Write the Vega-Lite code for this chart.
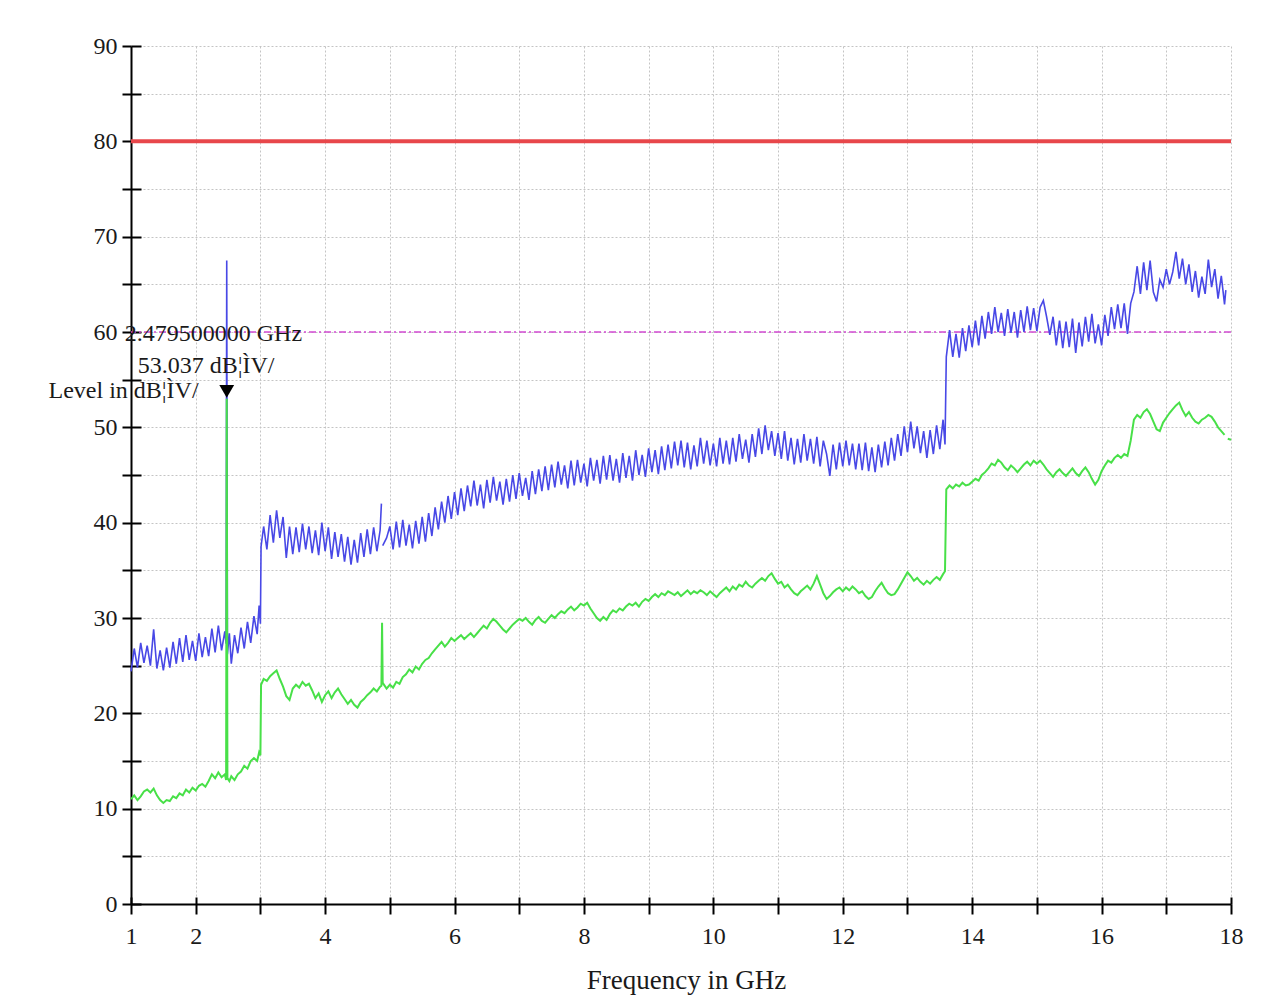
{
"$schema":"https://vega.github.io/schema/vega-lite/v6.json",
"width":1100,"height":858,
"autosize":{"type":"none"},
"padding":{"left":131,"top":46,"right":47,"bottom":94},
"background":"white",
"config":{"view":{"stroke":null},"axis":{"labelFont":"Liberation Serif","titleFont":"Liberation Serif","labelColor":"#1a1a1a","titleColor":"#1a1a1a","titleFontWeight":"normal","labelFlush":false,"labelOverlap":false,"labelBound":false}},
"data":{"values":[
{"f":1.00,"peak":24.4,"avg":11.0},{"f":1.05,"peak":26.8,"avg":11.4},{"f":1.10,"peak":24.8,"avg":10.9},{"f":1.15,"peak":27.4,"avg":11.3},{"f":1.20,"peak":25.3,"avg":11.8},{"f":1.25,"peak":27.1,"avg":12.0},{"f":1.30,"peak":25.0,"avg":11.7},{"f":1.35,"peak":28.8,"avg":12.1},{"f":1.40,"peak":24.7,"avg":11.4},{"f":1.45,"peak":26.6,"avg":10.9},
{"f":1.50,"peak":24.5,"avg":10.6},{"f":1.55,"peak":26.9,"avg":10.9},{"f":1.60,"peak":24.8,"avg":10.8},{"f":1.65,"peak":27.5,"avg":11.3},{"f":1.70,"peak":25.2,"avg":11.1},{"f":1.75,"peak":27.9,"avg":11.6},{"f":1.80,"peak":25.4,"avg":11.4},{"f":1.85,"peak":28.2,"avg":12.0},{"f":1.90,"peak":25.6,"avg":11.7},{"f":1.95,"peak":27.6,"avg":12.2},
{"f":2.00,"peak":25.5,"avg":11.9},{"f":2.05,"peak":28.4,"avg":12.4},{"f":2.10,"peak":25.9,"avg":12.6},{"f":2.15,"peak":28.0,"avg":12.3},{"f":2.20,"peak":26.0,"avg":12.9},{"f":2.25,"peak":28.9,"avg":13.6},{"f":2.30,"peak":26.4,"avg":13.2},{"f":2.35,"peak":29.2,"avg":13.8},{"f":2.40,"peak":26.6,"avg":13.3},{"f":2.45,"peak":28.6,"avg":13.6},
{"f":2.47,"peak":27.3,"avg":13.0},{"f":2.4795,"peak":67.5,"avg":53.0},{"f":2.49,"peak":26.2,"avg":13.2},{"f":2.52,"peak":28.4,"avg":12.9},{"f":2.55,"peak":25.2,"avg":13.4},{"f":2.60,"peak":28.2,"avg":13.0},{"f":2.65,"peak":26.3,"avg":13.6},{"f":2.70,"peak":29.0,"avg":13.9},{"f":2.75,"peak":26.8,"avg":14.5},{"f":2.80,"peak":29.6,"avg":14.2},
{"f":2.85,"peak":27.4,"avg":15.0},{"f":2.90,"peak":30.2,"avg":15.3},{"f":2.95,"peak":28.3,"avg":15.0},{"f":2.98,"peak":31.3,"avg":15.9},{"f":3.00,"peak":29.4,"avg":15.6},{"f":3.01,"peak":37.5,"avg":23.0},{"f":3.05,"peak":39.6,"avg":23.6},{"f":3.10,"peak":37.2,"avg":23.4},{"f":3.15,"peak":40.8,"avg":23.9},{"f":3.20,"peak":37.9,"avg":24.2},
{"f":3.25,"peak":41.3,"avg":24.5},{"f":3.30,"peak":38.4,"avg":23.6},{"f":3.35,"peak":40.6,"avg":22.8},{"f":3.40,"peak":36.3,"avg":21.8},{"f":3.45,"peak":39.6,"avg":21.4},{"f":3.50,"peak":36.7,"avg":22.6},{"f":3.55,"peak":39.5,"avg":23.0},{"f":3.60,"peak":36.9,"avg":22.7},{"f":3.65,"peak":39.9,"avg":23.3},{"f":3.70,"peak":37.2,"avg":22.9},
{"f":3.75,"peak":39.6,"avg":23.1},{"f":3.80,"peak":36.8,"avg":22.4},{"f":3.85,"peak":39.2,"avg":21.6},{"f":3.90,"peak":36.6,"avg":22.1},{"f":3.95,"peak":40.0,"avg":21.2},{"f":4.00,"peak":37.0,"avg":21.9},{"f":4.05,"peak":39.5,"avg":22.3},{"f":4.10,"peak":36.2,"avg":21.6},{"f":4.15,"peak":39.0,"avg":22.2},{"f":4.20,"peak":36.4,"avg":22.6},
{"f":4.25,"peak":38.8,"avg":22.0},{"f":4.30,"peak":35.9,"avg":21.5},{"f":4.35,"peak":38.5,"avg":21.0},{"f":4.40,"peak":35.6,"avg":21.4},{"f":4.45,"peak":38.2,"avg":20.9},{"f":4.50,"peak":35.8,"avg":20.6},{"f":4.55,"peak":38.9,"avg":21.2},{"f":4.60,"peak":36.4,"avg":21.5},{"f":4.65,"peak":39.3,"avg":21.9},{"f":4.70,"peak":36.7,"avg":22.2},
{"f":4.75,"peak":39.5,"avg":22.6},{"f":4.80,"peak":37.0,"avg":22.3},{"f":4.85,"peak":39.2,"avg":22.8},{"f":4.87,"peak":42.0,"avg":22.9},{"f":4.88,"avg":29.5},{"f":4.89,"peak":37.6,"avg":23.2},{"f":4.95,"peak":38.4,"avg":22.6},{"f":5.00,"peak":39.6,"avg":23.0},{"f":5.05,"peak":37.2,"avg":22.7},{"f":5.10,"peak":40.1,"avg":23.3},
{"f":5.15,"peak":37.4,"avg":23.1},{"f":5.20,"peak":40.3,"avg":23.8},{"f":5.25,"peak":37.6,"avg":24.1},{"f":5.30,"peak":39.8,"avg":24.6},{"f":5.35,"peak":37.3,"avg":24.3},{"f":5.40,"peak":40.2,"avg":24.9},{"f":5.45,"peak":37.8,"avg":24.6},{"f":5.50,"peak":40.6,"avg":25.2},{"f":5.55,"peak":38.0,"avg":25.6},{"f":5.60,"peak":41.0,"avg":25.8},
{"f":5.65,"peak":38.6,"avg":26.3},{"f":5.70,"peak":41.6,"avg":26.7},{"f":5.75,"peak":39.3,"avg":27.1},{"f":5.80,"peak":42.2,"avg":27.5},{"f":5.85,"peak":40.0,"avg":27.0},{"f":5.90,"peak":42.8,"avg":27.4},{"f":5.95,"peak":40.4,"avg":27.9},{"f":6.00,"peak":43.2,"avg":27.6},{"f":6.05,"peak":40.8,"avg":27.9},{"f":6.10,"peak":43.6,"avg":28.2},
{"f":6.15,"peak":41.2,"avg":27.8},{"f":6.20,"peak":43.9,"avg":28.1},{"f":6.25,"peak":41.7,"avg":28.4},{"f":6.30,"peak":44.4,"avg":28.0},{"f":6.35,"peak":41.8,"avg":28.4},{"f":6.40,"peak":44.0,"avg":28.8},{"f":6.45,"peak":41.5,"avg":29.2},{"f":6.50,"peak":44.5,"avg":28.9},{"f":6.55,"peak":42.1,"avg":29.5},{"f":6.60,"peak":44.8,"avg":29.9},
{"f":6.65,"peak":42.3,"avg":29.6},{"f":6.70,"peak":44.3,"avg":29.2},{"f":6.75,"peak":41.9,"avg":28.8},{"f":6.80,"peak":44.6,"avg":28.5},{"f":6.85,"peak":42.2,"avg":28.9},{"f":6.90,"peak":45.0,"avg":29.3},{"f":6.95,"peak":42.5,"avg":29.6},{"f":7.00,"peak":45.2,"avg":29.9},{"f":7.05,"peak":42.8,"avg":29.7},{"f":7.10,"peak":44.7,"avg":30.0},
{"f":7.15,"peak":42.4,"avg":29.6},{"f":7.20,"peak":45.4,"avg":29.3},{"f":7.25,"peak":43.0,"avg":29.8},{"f":7.30,"peak":45.6,"avg":30.1},{"f":7.35,"peak":43.3,"avg":29.7},{"f":7.40,"peak":45.9,"avg":29.5},{"f":7.45,"peak":43.4,"avg":29.9},{"f":7.50,"peak":46.1,"avg":30.3},{"f":7.55,"peak":43.7,"avg":30.0},{"f":7.60,"peak":46.4,"avg":30.4},
{"f":7.65,"peak":44.0,"avg":30.7},{"f":7.70,"peak":46.0,"avg":30.5},{"f":7.75,"peak":43.6,"avg":30.9},{"f":7.80,"peak":46.5,"avg":31.2},{"f":7.85,"peak":43.9,"avg":30.8},{"f":7.90,"peak":46.6,"avg":31.1},{"f":7.95,"peak":44.2,"avg":31.5},{"f":8.00,"peak":46.2,"avg":31.3},{"f":8.05,"peak":43.8,"avg":31.6},{"f":8.10,"peak":46.8,"avg":31.0},
{"f":8.15,"peak":44.4,"avg":30.5},{"f":8.20,"peak":46.6,"avg":30.0},{"f":8.25,"peak":44.1,"avg":29.7},{"f":8.30,"peak":47.0,"avg":30.1},{"f":8.35,"peak":44.5,"avg":29.8},{"f":8.40,"peak":47.1,"avg":30.4},{"f":8.45,"peak":44.4,"avg":30.8},{"f":8.50,"peak":46.7,"avg":30.6},{"f":8.55,"peak":44.2,"avg":31.0},{"f":8.60,"peak":47.3,"avg":30.8},
{"f":8.65,"peak":44.7,"avg":31.2},{"f":8.70,"peak":47.0,"avg":31.5},{"f":8.75,"peak":44.4,"avg":31.3},{"f":8.80,"peak":47.6,"avg":31.6},{"f":8.85,"peak":45.0,"avg":31.2},{"f":8.90,"peak":47.1,"avg":31.7},{"f":8.95,"peak":44.8,"avg":32.0},{"f":9.00,"peak":47.8,"avg":31.8},{"f":9.05,"peak":45.3,"avg":32.2},{"f":9.10,"peak":47.6,"avg":32.5},
{"f":9.15,"peak":45.1,"avg":32.2},{"f":9.20,"peak":48.0,"avg":32.6},{"f":9.25,"peak":45.5,"avg":32.4},{"f":9.30,"peak":48.2,"avg":32.8},{"f":9.35,"peak":45.7,"avg":32.6},{"f":9.40,"peak":48.5,"avg":32.4},{"f":9.45,"peak":46.0,"avg":32.7},{"f":9.50,"peak":48.6,"avg":32.3},{"f":9.55,"peak":45.8,"avg":32.6},{"f":9.60,"peak":48.4,"avg":32.9},
{"f":9.65,"peak":45.6,"avg":32.5},{"f":9.70,"peak":48.1,"avg":32.8},{"f":9.75,"peak":45.9,"avg":32.6},{"f":9.80,"peak":48.9,"avg":32.9},{"f":9.85,"peak":46.2,"avg":32.7},{"f":9.90,"peak":48.6,"avg":32.4},{"f":9.95,"peak":46.0,"avg":32.8},{"f":10.00,"peak":48.3,"avg":32.5},{"f":10.05,"peak":45.9,"avg":32.2},{"f":10.10,"peak":48.9,"avg":32.6},
{"f":10.15,"peak":46.2,"avg":32.9},{"f":10.20,"peak":48.6,"avg":33.2},{"f":10.25,"peak":46.1,"avg":32.8},{"f":10.30,"peak":48.9,"avg":33.3},{"f":10.35,"peak":46.4,"avg":33.0},{"f":10.40,"peak":49.3,"avg":33.5},{"f":10.45,"peak":46.7,"avg":33.3},{"f":10.50,"peak":48.7,"avg":33.8},{"f":10.55,"peak":46.3,"avg":33.4},{"f":10.60,"peak":49.3,"avg":33.2},
{"f":10.65,"peak":46.9,"avg":33.6},{"f":10.70,"peak":49.9,"avg":33.9},{"f":10.75,"peak":47.2,"avg":34.2},{"f":10.80,"peak":50.2,"avg":33.9},{"f":10.85,"peak":47.6,"avg":34.4},{"f":10.90,"peak":49.6,"avg":34.7},{"f":10.95,"peak":47.0,"avg":34.1},{"f":11.00,"peak":49.4,"avg":33.6},{"f":11.05,"peak":46.7,"avg":33.8},{"f":11.10,"peak":49.6,"avg":33.2},
{"f":11.15,"peak":46.5,"avg":33.5},{"f":11.20,"peak":48.9,"avg":33.0},{"f":11.25,"peak":46.1,"avg":32.6},{"f":11.30,"peak":48.8,"avg":32.4},{"f":11.35,"peak":46.3,"avg":32.8},{"f":11.40,"peak":49.3,"avg":33.1},{"f":11.45,"peak":46.5,"avg":33.4},{"f":11.50,"peak":48.8,"avg":33.0},{"f":11.55,"peak":46.2,"avg":33.6},{"f":11.60,"peak":49.0,"avg":34.4},
{"f":11.65,"peak":45.9,"avg":33.5},{"f":11.70,"peak":48.6,"avg":32.6},{"f":11.75,"peak":47.2,"avg":32.0},{"f":11.80,"peak":44.9,"avg":32.3},{"f":11.85,"peak":48.2,"avg":32.7},{"f":11.90,"peak":45.6,"avg":33.0},{"f":11.95,"peak":48.4,"avg":33.2},{"f":12.00,"peak":45.9,"avg":32.8},{"f":12.05,"peak":48.6,"avg":33.2},{"f":12.10,"peak":46.0,"avg":32.9},
{"f":12.15,"peak":48.3,"avg":33.3},{"f":12.20,"peak":45.6,"avg":33.0},{"f":12.25,"peak":48.3,"avg":32.6},{"f":12.30,"peak":45.5,"avg":32.8},{"f":12.35,"peak":48.4,"avg":32.3},{"f":12.40,"peak":45.4,"avg":32.0},{"f":12.45,"peak":47.9,"avg":32.2},{"f":12.50,"peak":45.3,"avg":32.8},{"f":12.55,"peak":48.2,"avg":33.3},{"f":12.60,"peak":45.8,"avg":33.7},
{"f":12.65,"peak":48.5,"avg":33.1},{"f":12.70,"peak":46.0,"avg":32.6},{"f":12.75,"peak":48.9,"avg":32.4},{"f":12.80,"peak":46.5,"avg":32.5},{"f":12.85,"peak":49.3,"avg":33.0},{"f":12.90,"peak":47.0,"avg":33.6},{"f":12.95,"peak":50.1,"avg":34.2},{"f":13.00,"peak":47.4,"avg":34.8},{"f":13.05,"peak":50.6,"avg":34.4},{"f":13.10,"peak":47.8,"avg":33.9},
{"f":13.15,"peak":50.1,"avg":34.2},{"f":13.20,"peak":47.3,"avg":33.8},{"f":13.25,"peak":49.6,"avg":33.5},{"f":13.30,"peak":46.8,"avg":33.9},{"f":13.35,"peak":49.7,"avg":33.6},{"f":13.40,"peak":47.2,"avg":34.0},{"f":13.45,"peak":50.2,"avg":34.3},{"f":13.50,"peak":47.7,"avg":34.0},{"f":13.55,"peak":50.8,"avg":34.6},{"f":13.58,"peak":48.2,"avg":34.9},
{"f":13.60,"peak":57.4,"avg":43.5},{"f":13.65,"peak":60.2,"avg":43.9},{"f":13.70,"peak":57.4,"avg":43.6},{"f":13.75,"peak":59.8,"avg":44.0},{"f":13.80,"peak":57.3,"avg":43.8},{"f":13.85,"peak":60.4,"avg":44.2},{"f":13.90,"peak":58.0,"avg":43.9},{"f":13.95,"peak":60.7,"avg":44.0},{"f":14.00,"peak":58.4,"avg":44.3},{"f":14.05,"peak":61.2,"avg":44.6},
{"f":14.10,"peak":58.6,"avg":44.4},{"f":14.15,"peak":61.7,"avg":45.0},{"f":14.20,"peak":59.3,"avg":45.3},{"f":14.25,"peak":62.1,"avg":45.7},{"f":14.30,"peak":59.8,"avg":46.2},{"f":14.35,"peak":62.6,"avg":46.0},{"f":14.40,"peak":60.0,"avg":46.6},{"f":14.45,"peak":62.0,"avg":46.3},{"f":14.50,"peak":59.6,"avg":45.8},{"f":14.55,"peak":62.4,"avg":45.5},
{"f":14.60,"peak":59.9,"avg":46.0},{"f":14.65,"peak":62.1,"avg":45.7},{"f":14.70,"peak":59.4,"avg":45.3},{"f":14.75,"peak":62.3,"avg":45.7},{"f":14.80,"peak":60.0,"avg":46.1},{"f":14.85,"peak":62.7,"avg":46.4},{"f":14.90,"peak":60.2,"avg":46.0},{"f":14.95,"peak":62.5,"avg":46.5},{"f":15.00,"peak":60.1,"avg":46.2},{"f":15.05,"peak":62.6,"avg":46.5},
{"f":15.10,"peak":63.3,"avg":46.1},{"f":15.15,"peak":61.6,"avg":45.6},{"f":15.20,"peak":59.7,"avg":45.2},{"f":15.25,"peak":61.6,"avg":44.8},{"f":15.30,"peak":58.6,"avg":45.3},{"f":15.35,"peak":61.2,"avg":45.6},{"f":15.40,"peak":58.3,"avg":45.2},{"f":15.45,"peak":61.1,"avg":44.9},{"f":15.50,"peak":58.4,"avg":45.3},{"f":15.55,"peak":61.4,"avg":45.7},
{"f":15.60,"peak":57.8,"avg":45.2},{"f":15.65,"peak":61.0,"avg":44.9},{"f":15.70,"peak":58.5,"avg":45.4},{"f":15.75,"peak":61.6,"avg":45.8},{"f":15.80,"peak":59.0,"avg":45.3},{"f":15.85,"peak":61.9,"avg":44.6},{"f":15.90,"peak":58.8,"avg":44.0},{"f":15.95,"peak":60.8,"avg":44.5},{"f":16.00,"peak":58.6,"avg":45.4},{"f":16.05,"peak":61.8,"avg":46.0},
{"f":16.10,"peak":59.6,"avg":46.5},{"f":16.15,"peak":62.6,"avg":46.3},{"f":16.20,"peak":60.3,"avg":46.8},{"f":16.25,"peak":62.9,"avg":47.1},{"f":16.30,"peak":60.4,"avg":46.8},{"f":16.35,"peak":63.0,"avg":47.2},{"f":16.40,"peak":59.8,"avg":47.0},{"f":16.45,"peak":63.0,"avg":48.6},{"f":16.50,"peak":64.2,"avg":50.8},{"f":16.55,"peak":66.9,"avg":51.3},
{"f":16.60,"peak":64.0,"avg":51.0},{"f":16.65,"peak":67.3,"avg":51.6},{"f":16.70,"peak":64.4,"avg":51.9},{"f":16.75,"peak":67.5,"avg":51.4},{"f":16.80,"peak":64.2,"avg":50.6},{"f":16.85,"peak":63.2,"avg":49.8},{"f":16.90,"peak":65.5,"avg":49.6},{"f":16.95,"peak":64.7,"avg":50.5},{"f":17.00,"peak":66.6,"avg":51.0},{"f":17.05,"peak":65.0,"avg":51.5},
{"f":17.10,"peak":66.3,"avg":51.9},{"f":17.15,"peak":68.4,"avg":52.3},{"f":17.20,"peak":65.6,"avg":52.6},{"f":17.25,"peak":67.7,"avg":51.8},{"f":17.30,"peak":65.0,"avg":51.2},{"f":17.35,"peak":67.1,"avg":51.6},{"f":17.40,"peak":64.2,"avg":51.0},{"f":17.45,"peak":66.4,"avg":50.6},{"f":17.50,"peak":63.6,"avg":50.4},{"f":17.55,"peak":65.8,"avg":50.8},
{"f":17.60,"peak":64.0,"avg":51.0},{"f":17.65,"peak":67.6,"avg":51.3},{"f":17.70,"peak":64.7,"avg":51.1},{"f":17.75,"peak":66.6,"avg":50.6},{"f":17.80,"peak":63.5,"avg":50.0},{"f":17.85,"peak":65.9,"avg":49.6},{"f":17.90,"peak":62.9,"avg":49.2},{"f":17.92,"peak":64.4},{"f":17.95,"avg":48.8},{"f":18.00,"avg":48.7}
]},
"resolve":{"axis":{"x":"independent","y":"independent"}},
"layer":[
{"data":{"values":[{"limit":60}]},
 "mark":{"type":"rule","stroke":"#d24bd2","strokeWidth":1.5,"strokeDash":[7,3,2,3]},
 "encoding":{"y":{"field":"limit","type":"quantitative","scale":{"domain":[0,90],"nice":false,"zero":false},"axis":null}}},
{"mark":{"type":"line","stroke":"#4848e6","strokeWidth":1.6},
 "encoding":{
  "x":{"field":"f","type":"quantitative","scale":{"domain":[1,18],"nice":false,"zero":false},
   "axis":{"values":[1,2,3,4,5,6,7,8,9,10,11,12,13,14,15,16,17,18],"labelExpr":"datum.value == 1 || datum.value % 2 == 0 ? datum.label : ''","grid":true,"gridDash":[2,2],"gridColor":"#c4c4c4","gridWidth":1,"domainColor":"#000","domainWidth":2,"tickColor":"#000","tickWidth":2,"tickSize":10,"labelPadding":10,"labelFontSize":24,"title":"Frequency in GHz","titleFontSize":27,"titleX":555,"titleY":84,"titleAlign":"center","titleBaseline":"alphabetic"}},
  "y":{"field":"peak","type":"quantitative","scale":{"domain":[0,90],"nice":false,"zero":false},
   "axis":{"values":[0,5,10,15,20,25,30,35,40,45,50,55,60,65,70,75,80,85,90],"labelExpr":"datum.value % 10 == 0 ? datum.label : ''","grid":true,"gridDash":[2,2],"gridColor":"#c4c4c4","gridWidth":1,"domainColor":"#000","domainWidth":2,"tickColor":"#000","tickWidth":2,"tickSize":9,"labelPadding":5,"labelFontSize":24,"title":"Level in dB¦ÌV/","titleFontSize":24,"titleAngle":0,"titleAlign":"left","titleBaseline":"alphabetic","titleX":-83,"titleY":351}}}},
{"mark":{"type":"line","stroke":"#48e048","strokeWidth":2},
 "encoding":{
  "x":{"field":"f","type":"quantitative","axis":{"orient":"bottom","values":[1,2,3,4,5,6,7,8,9,10,11,12,13,14,15,16,17,18],"offset":-7,"tickSize":7,"tickWidth":2,"tickColor":"#000","domain":false,"labels":false,"grid":false,"title":null}},
  "y":{"field":"avg","type":"quantitative","axis":{"orient":"left","values":[0,5,10,15,20,25,30,35,40,45,50,55,60,65,70,75,80,85,90],"offset":-10,"tickSize":10,"tickWidth":2,"tickColor":"#000","domain":false,"labels":false,"grid":false,"title":null}}}},
{"data":{"values":[{"limit":80}]},
 "mark":{"type":"rule","stroke":"#e8474b","strokeWidth":4},
 "encoding":{"y":{"field":"limit","type":"quantitative","axis":null}}},
{"data":{"values":[{"f":2.4795,"lvl":53.037,"t1":"2.479500000 GHz","t2":"53.037 dB¦ÌV/"}]},
 "layer":[
  {"mark":{"type":"point","shape":"triangle-down","filled":true,"color":"#000","opacity":1,"size":220,"yOffset":-7},
   "encoding":{"x":{"field":"f","type":"quantitative","axis":null},"y":{"field":"lvl","type":"quantitative","axis":null}}},
  {"mark":{"type":"text","align":"left","baseline":"alphabetic","dx":-102,"dy":-57,"font":"Liberation Serif","fontSize":24,"color":"#1a1a1a"},
   "encoding":{"x":{"field":"f","type":"quantitative","axis":null},"y":{"field":"lvl","type":"quantitative","axis":null},"text":{"field":"t1"}}},
  {"mark":{"type":"text","align":"left","baseline":"alphabetic","dx":-89,"dy":-25,"font":"Liberation Serif","fontSize":24,"color":"#1a1a1a"},
   "encoding":{"x":{"field":"f","type":"quantitative","axis":null},"y":{"field":"lvl","type":"quantitative","axis":null},"text":{"field":"t2"}}}
 ]}
]
}
